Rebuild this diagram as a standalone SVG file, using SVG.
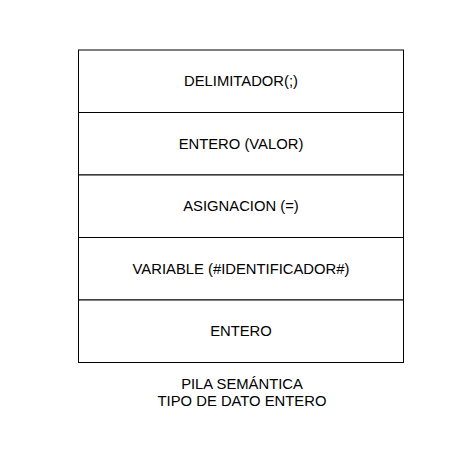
<svg xmlns="http://www.w3.org/2000/svg" width="465" height="455" viewBox="0 0 465 455">
<style>
.box{fill:#fff;stroke:#000;stroke-width:1}
.lbl{font-family:"Liberation Sans",Arial,sans-serif;font-size:14.8px;fill:#000;text-anchor:middle}
</style>
<rect width="465" height="455" fill="#fff"/>
<g id="n1"><rect class="box" x="78.5" y="50" width="325" height="62.5"/><text class="lbl" x="241" y="86">DELIMITADOR(;)</text></g>
<g id="n2"><rect class="box" x="78.5" y="112.5" width="325" height="62.5"/><text class="lbl" x="241" y="148.5">ENTERO (VALOR)</text></g>
<g id="n3"><rect class="box" x="78.5" y="175" width="325" height="62.5"/><text class="lbl" x="241" y="211">ASIGNACION (=)</text></g>
<g id="n4"><rect class="box" x="78.5" y="237.5" width="325" height="62.5"/><text class="lbl" x="241" y="273.5">VARIABLE (#IDENTIFICADOR#)</text></g>
<g id="n5"><rect class="box" x="78.5" y="300" width="325" height="62.5"/><text class="lbl" x="241" y="336">ENTERO</text></g>
<g id="caption"><text class="lbl" x="242" y="389">PILA SEMÁNTICA</text><text class="lbl" x="242" y="405.5">TIPO DE DATO ENTERO</text></g>
<g id="connectors"/>
</svg>
